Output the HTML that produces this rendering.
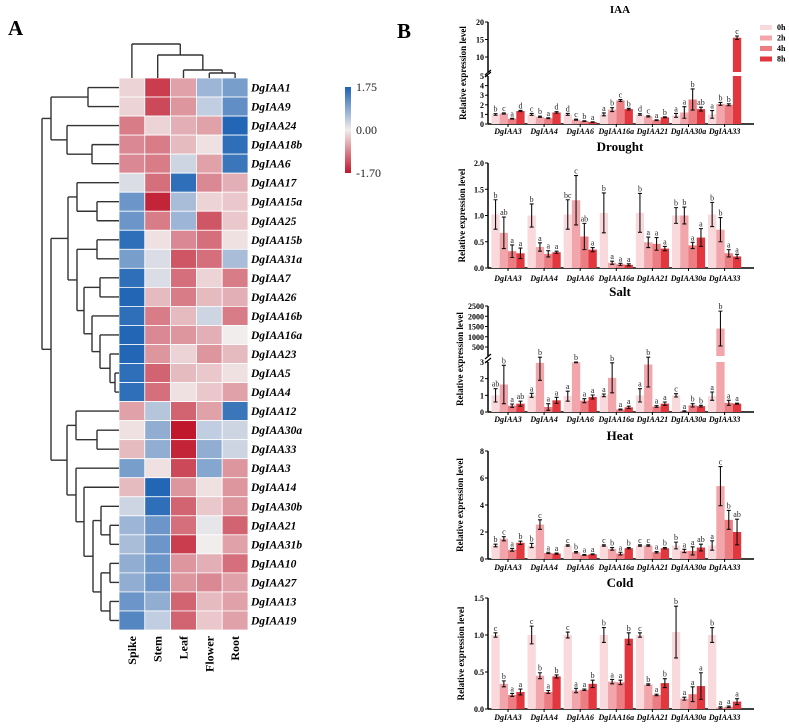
<!DOCTYPE html>
<html><head><meta charset="utf-8"><style>
html,body{margin:0;padding:0;background:#fff;}
svg{display:block;}
text{font-family:"Liberation Serif",serif;}
</style></head>
<body>
<svg id="fig" width="789" height="728" viewBox="0 0 789 728" xmlns="http://www.w3.org/2000/svg">
<text x="8" y="35" font-size="21" font-weight="bold">A</text>
<text x="397" y="38" font-size="21" font-weight="bold">B</text>
<g id="heat"></g>
<g id="bars"></g>
</svg>
<script>
// ---------- Heatmap data ----------
const heatGenes = ["DgIAA1","DgIAA9","DgIAA24","DgIAA18b","DgIAA6","DgIAA17","DgIAA15a","DgIAA25","DgIAA15b","DgIAA31a","DgIAA7","DgIAA26","DgIAA16b","DgIAA16a","DgIAA23","DgIAA5","DgIAA4","DgIAA12","DgIAA30a","DgIAA33","DgIAA3","DgIAA14","DgIAA30b","DgIAA21","DgIAA31b","DgIAA10","DgIAA27","DgIAA13","DgIAA19"];
const tissues = ["Spike","Stem","Leaf","Flower","Root"];
const heatValues = [
[-0.2,-1.4,-0.6,0.7,1.0],[-0.2,-1.3,-0.7,0.4,1.2],[-0.9,-0.2,-0.5,-0.6,1.7],[-0.8,-0.9,-0.4,-0.1,1.6],[-0.8,-0.9,0.3,-0.6,1.5],
[0.2,-1.0,1.6,-0.8,-0.5],[1.1,-1.6,0.6,-0.2,-0.3],[1.1,-0.9,0.7,-1.2,-0.3],[1.6,-0.1,-0.8,-1.0,-0.1],[1.0,0.2,-1.2,-1.0,0.6],
[1.6,0.2,-1.0,-0.2,-0.9],[1.7,-0.4,-0.9,-0.4,-0.5],[1.6,-0.9,-0.4,0.3,-0.9],[1.7,-0.8,-0.7,-0.5,0.0],[1.7,-0.7,-0.2,-0.7,-0.4],
[1.6,-1.1,-0.4,-0.3,-0.1],[1.6,-1.0,-0.1,-0.3,-0.6],[-0.6,0.5,-1.1,-0.6,1.5],[-0.1,0.8,-1.7,0.4,0.3],[-0.4,0.8,-1.6,0.8,0.3],
[1.0,-0.1,-1.3,0.9,-0.7],[-0.4,1.7,-0.7,-0.1,-0.7],[0.3,1.6,-1.1,-0.3,-0.7],[0.7,1.1,-1.0,0.1,-1.1],[0.6,1.1,-1.4,0.0,-0.6],
[0.8,1.1,-0.7,-0.5,-1.0],[0.8,1.1,-0.7,-0.8,-0.6],[1.1,0.8,-1.1,-0.4,-0.6],[1.3,0.4,-1.1,-0.3,-0.6]];
const colorbarTicks = [1.75, 0.00, -1.70];

// ---------- Bar chart data ----------
const barGenes = ["DgIAA3","DgIAA4","DgIAA6","DgIAA16a","DgIAA21","DgIAA30a","DgIAA33"];
const timePoints = ["0h","2h","4h","8h"];
const iaaMeans = [[1.0,1.1,0.55,1.35],[1.0,0.75,0.6,1.2],[1.0,0.45,0.3,0.2],[1.0,1.5,2.45,1.55],[1.0,0.8,0.4,0.7],[0.9,1.2,2.55,1.55],[1.0,2.1,2.0,15.5]];
const iaaErrs = [[0.08,0.06,0.04,0.06],[0.1,0.06,0.04,0.08],[0.1,0.05,0.03,0.03],[0.15,0.2,0.1,0.08],[0.08,0.06,0.04,0.05],[0.2,0.6,1.1,0.2],[0.4,0.15,0.1,0.5]];
const iaaLetters = [["b","c","a","d"],["c","b","a","d"],["d","c","b","a"],["a","b","c","b"],["d","c","a","b"],["a","a","b","ab"],["a","b","b","c"]];
const droughtMeans = [[1.02,0.67,0.32,0.28],[1.0,0.4,0.27,0.3],[1.02,1.29,0.6,0.35],[1.05,0.1,0.07,0.06],[1.05,0.49,0.46,0.37],[1.0,1.0,0.43,0.58],[1.02,0.73,0.28,0.22]];
const droughtErrs = [[0.28,0.3,0.12,0.1],[0.22,0.08,0.06,0.02],[0.28,0.47,0.25,0.04],[0.38,0.03,0.02,0.02],[0.37,0.1,0.12,0.04],[0.15,0.16,0.06,0.17],[0.23,0.23,0.07,0.04]];
const droughtLetters = [["b","ab","a","a"],["b","a","a","a"],["bc","c","ab","a"],["b","a","a","a"],["b","a","a","a"],["b","b","a","a"],["b","b","a","a"]];
const saltMeans = [[1.0,1.65,0.38,0.5],[1.0,2.95,0.3,0.7],[0.95,2.98,0.68,0.9],[1.0,2.05,0.15,0.28],[1.0,2.85,0.33,0.5],[1.0,0.05,0.4,0.35],[0.95,1400,0.55,0.5]];
const saltErrs = [[0.4,1.15,0.1,0.15],[0.12,1.05,0.2,0.18],[0.3,0.02,0.12,0.12],[0.08,0.9,0.03,0.07],[0.4,1.35,0.05,0.1],[0.1,0.02,0.1,0.05],[0.25,850,0.15,0.03]];
const saltLetters = [["ab","b","a","ab"],["a","b","a","a"],["a","b","a","a"],["a","b","a","a"],["a","b","a","a"],["c","a","b","b"],["a","b","a","a"]];
const heatMeans = [[1.0,1.5,0.68,1.2],[1.0,2.55,0.45,0.4],[1.0,0.5,0.3,0.35],[1.0,0.75,0.4,0.8],[1.0,1.0,0.5,0.8],[1.0,0.6,0.6,0.85],[1.0,5.4,2.9,2.0]];
const heatErrs = [[0.1,0.15,0.1,0.12],[0.15,0.35,0.05,0.04],[0.05,0.05,0.03,0.03],[0.05,0.1,0.1,0.05],[0.05,0.05,0.05,0.05],[0.25,0.12,0.3,0.25],[0.35,1.45,0.7,0.95]];
const heatLetters = [["b","c","a","b"],["b","c","a","a"],["c","b","a","a"],["c","b","a","b"],["c","c","a","b"],["b","a","a","ab"],["a","c","b","ab"]];
const coldMeans = [[1.0,0.34,0.19,0.23],[1.0,0.45,0.23,0.44],[1.0,0.25,0.26,0.34],[1.0,0.37,0.36,0.95],[1.0,0.33,0.19,0.35],[1.04,0.14,0.2,0.31],[1.0,0.02,0.03,0.1]];
const coldErrs = [[0.03,0.04,0.02,0.04],[0.12,0.04,0.02,0.02],[0.04,0.03,0.01,0.05],[0.1,0.03,0.03,0.08],[0.03,0.01,0.01,0.06],[0.35,0.02,0.1,0.18],[0.1,0.01,0.01,0.04]];
const coldLetters = [["c","b","a","a"],["c","b","a","b"],["c","a","a","b"],["b","a","a","b"],["c","b","a","b"],["b","a","a","a"],["b","a","a","a"]];
const iaaTicksLow = [0,1,2,3,4,5], iaaTicksUp = [10,15,20];
const droughtTicks = [0,0.5,1.0,1.5,2.0];
const saltTicksLow = [0,1,2,3], saltTicksUp = [500,1000,1500,2000,2500];
const heatTicks = [0,2,4,6,8];
const coldTicks = [0,0.5,1.0,1.5];

const NS = "http://www.w3.org/2000/svg";
function mk(parent, tag, attrs, txt){const e=document.createElementNS(NS,tag);for(const k in attrs)e.setAttribute(k,attrs[k]);if(txt!==undefined)e.textContent=txt;parent.appendChild(e);return e;}

// ---------- Heatmap ----------
const hg = document.getElementById('heat');
const HX0=119, HW=25.8, HY0=78, HH=(630-78)/heatGenes.length;
function colX(j){return HX0+j*HW;}
function rowY(i){return HY0+i*HH;}
function lerp(a,b,t){return Math.round(a+(b-a)*t);}
function heatColor(v){
  const n=[242,237,237], b=[29,98,179], r=[192,23,45];
  let c,t;
  if(v>=0){t=Math.min(1,v/1.75);c=b;}else{t=Math.min(1,-v/1.70);c=r;}
  return `rgb(${lerp(n[0],c[0],t)},${lerp(n[1],c[1],t)},${lerp(n[2],c[2],t)})`;
}
heatValues.forEach((row,i)=>{
  row.forEach((v,j)=>{
    const r=mk(hg,'rect',{x:colX(j),y:rowY(i),width:HW,height:HH,fill:heatColor(v),stroke:'#fff','stroke-width':0.8});
    
    
  });
  const t=mk(hg,'text',{x:251,y:rowY(i)+HH/2+4,'font-size':11.5,'font-weight':'bold','font-style':'italic'},heatGenes[i]);
  
  
});
tissues.forEach((tn,j)=>{
  const cx=colX(j)+HW/2+4;
  const t=mk(hg,'text',{x:cx,y:636,'font-size':12,'font-weight':'bold','text-anchor':'end',transform:`rotate(-90 ${cx} 636)`},tn);
  
  
});
function N(x,ch){return {x:x,ch:ch};}
const rowTree = N(42,[N(51,[N(88,[0,1]),N(67,[2,N(92,[3,4])])]),
  N(51,[N(68,[N(77,[5,N(97,[6,7])]),N(77,[N(97,[8,9]),N(84,[N(100,[10,11]),N(92,[12,N(100,[13,N(110,[14,N(115,[15,16])])])])])])]),
        N(67,[N(76,[17,N(97,[18,19])]),N(76,[20,N(84,[21,N(93,[N(101,[22,N(110,[23,24])]),N(101,[N(110,[25,26]),N(110,[27,28])])])])])])])]);
const dg = mk(hg,'g',{stroke:'#333','stroke-width':1.4,fill:'none'});


function drawRow(nd){
  if(typeof nd==='number') return {x:HX0,y:rowY(nd)+HH/2};
  const ps=nd.ch.map(drawRow);
  ps.forEach(p=>mk(dg,'line',{x1:nd.x,y1:p.y,x2:p.x,y2:p.y}));
  mk(dg,'line',{x1:nd.x,y1:ps[0].y,x2:nd.x,y2:ps[ps.length-1].y});
  return {x:nd.x,y:(ps[0].y+ps[ps.length-1].y)/2};
}
drawRow(rowTree);
const colTree = N(44,[0,N(55,[1,N(70,[2,N(73,[3,4])])])]);
const cg = mk(hg,'g',{stroke:'#333','stroke-width':1.4,fill:'none'});


function drawCol(nd){
  if(typeof nd==='number') return {x:colX(nd)+HW/2,y:HY0};
  const ps=nd.ch.map(drawCol);
  ps.forEach(p=>mk(cg,'line',{x1:p.x,y1:nd.x,x2:p.x,y2:p.y}));
  mk(cg,'line',{x1:ps[0].x,y1:nd.x,x2:ps[ps.length-1].x,y2:nd.x});
  return {x:(ps[0].x+ps[ps.length-1].x)/2,y:nd.x};
}
drawCol(colTree);
const defs=mk(document.getElementById('fig'),'defs',{});
const lg=mk(defs,'linearGradient',{id:'cbg',x1:0,y1:0,x2:0,y2:1});
[[0,1.75],[0.5,0],[1,-1.7]].forEach(s=>mk(lg,'stop',{offset:s[0],'stop-color':heatColor(s[1])}));
const cb=mk(hg,'rect',{x:345,y:87,width:6,height:86,fill:'url(#cbg)'});


colorbarTicks.forEach(v=>{
  const y = v>=0 ? 130-(v/1.75)*43 : 130+(-v/1.70)*43;
  const t=mk(hg,'text',{x:356,y:y+4,'font-size':12,'font-family':'Liberation Sans, sans-serif',fill:'#222'},v.toFixed(2));
  
  
});

// ---------- Bar panels ----------
const bg=document.getElementById('bars');
const barColors=['#f9d9dc','#f2a5aa','#ec7d82','#e2373f'];
const AX=488, AXR=754, GC0=508, GS=36.1, BW=8.3;
function fmt(v,dec){return dec?v.toFixed(1):String(v);}
function panel(cfg){
  const g=mk(bg,'g',{});
  
  
  const t=mk(g,'text',{x:620,y:cfg.titleY,'font-size':cfg.titleSize,'font-weight':'bold','text-anchor':'middle'},cfg.title);
  
  
  const low=cfg.low, up=cfg.up;
  function yLow(v){return low.y0+(low.y1-low.y0)*(v/low.max);}
  function yUp(v){return up.ya+(up.yb-up.ya)*(v-up.va)/(up.vb-up.va);}
  function yv(v){return (up && v>low.max)?yUp(v):yLow(v);}
  const topY = up?up.top:low.y1;
  if(up){
    mk(g,'line',{x1:AX,y1:low.y0,x2:AX,y2:low.y1,stroke:'#000','stroke-width':1.5});
    mk(g,'line',{x1:AX,y1:up.start,x2:AX,y2:up.top,stroke:'#000','stroke-width':1.5});
    mk(g,'line',{x1:AX-3,y1:low.y1+1,x2:AX+3,y2:low.y1-4,stroke:'#000','stroke-width':1.2});
    mk(g,'line',{x1:AX-3,y1:up.start+3,x2:AX+3,y2:up.start-2,stroke:'#000','stroke-width':1.2});
  } else mk(g,'line',{x1:AX,y1:low.y0,x2:AX,y2:low.y1,stroke:'#000','stroke-width':1.5});
  mk(g,'line',{x1:AX,y1:low.y0,x2:AXR,y2:low.y0,stroke:'#000','stroke-width':1.5});
  const ticks=[...cfg.ticksLow.map(v=>[v,yLow(v)]),...(cfg.ticksUp||[]).map(v=>[v,yUp(v)])];
  ticks.forEach(([v,y])=>{
    mk(g,'line',{x1:AX-3,y1:y,x2:AX,y2:y,stroke:'#000','stroke-width':1});
    const tl=mk(g,'text',{x:AX-4,y:y+3,'font-size':8,'font-weight':'bold','text-anchor':'end'},fmt(v,cfg.dec));
    
    
  });
  const ymid=(low.y0+topY)/2;
  const yt=mk(g,'text',{x:cfg.ytX,y:ymid,'font-size':9,'font-weight':'bold','text-anchor':'middle',transform:`rotate(-90 ${cfg.ytX} ${ymid})`},'Relative expression level');
  
  
  cfg.means.forEach((row,i)=>{
    const gc=GC0+GS*i;
    mk(g,'line',{x1:gc,y1:low.y0,x2:gc,y2:low.y0+3,stroke:'#000','stroke-width':1});
    const gl=mk(g,'text',{x:gc,y:cfg.labY,'font-size':8,'font-weight':'bold','font-style':'italic','text-anchor':'middle'},barGenes[i]);
    
    
    row.forEach((v,k)=>{
      const x=gc-2*BW+k*BW;
      if(up && v>low.max){
        const r1=mk(g,'rect',{x:x,y:low.y1,width:BW,height:low.y0-low.y1,fill:barColors[k]});
        
        
        const r2=mk(g,'rect',{x:x,y:yUp(v),width:BW,height:up.start-yUp(v),fill:barColors[k]});
        
        
      } else {
        const yy=yLow(Math.min(v,low.max));
        const r=mk(g,'rect',{x:x,y:yy,width:BW,height:low.y0-yy,fill:barColors[k]});
        
        
      }
      const e=cfg.errs[i][k];
      const cx=x+BW/2;
      const yt2=yv(v+e), yb=yv(Math.max(0,v-e));
      const eg=mk(g,'path',{d:`M${cx},${yt2}V${yb}M${cx-2},${yt2}H${cx+2}M${cx-2},${yb}H${cx+2}`,stroke:'#111','stroke-width':1.1,fill:'none'});
      
      
      const lt=mk(g,'text',{x:cx,y:yt2-2,'font-size':8,'text-anchor':'middle',fill:'#222'},cfg.letters[i][k]);
      
      
    });
  });
}
panel({name:'iaa',title:'IAA',titleY:13,titleSize:11,means:iaaMeans,errs:iaaErrs,letters:iaaLetters,
  low:{y0:124,y1:76,max:5},up:{va:10,vb:20,ya:57,yb:22,start:72,top:22},ticksLow:iaaTicksLow,ticksUp:iaaTicksUp,dec:false,ytX:466,labY:134});
panel({name:'drought',title:'Drought',titleY:151,titleSize:13,means:droughtMeans,errs:droughtErrs,letters:droughtLetters,
  low:{y0:268,y1:163,max:2},ticksLow:droughtTicks,dec:true,ytX:465,labY:281});
panel({name:'salt',title:'Salt',titleY:296,titleSize:13,means:saltMeans,errs:saltErrs,letters:saltLetters,
  low:{y0:412,y1:362,max:3},up:{va:500,vb:2500,ya:347,yb:306,start:356,top:306},ticksLow:saltTicksLow,ticksUp:saltTicksUp,dec:false,ytX:463,labY:422});
panel({name:'heat',title:'Heat',titleY:440,titleSize:13,means:heatMeans,errs:heatErrs,letters:heatLetters,
  low:{y0:559,y1:451,max:8},ticksLow:heatTicks,dec:false,ytX:463,labY:570});
panel({name:'cold',title:'Cold',titleY:587,titleSize:13,means:coldMeans,errs:coldErrs,letters:coldLetters,
  low:{y0:709,y1:598,max:1.5},ticksLow:coldTicks,dec:true,ytX:464,labY:720});
timePoints.forEach((tp,k)=>{
  const y=25+k*10.5;
  const r=mk(bg,'rect',{x:760,y:y,width:12,height:5,fill:barColors[k]});
  
  
  const t=mk(bg,'text',{x:777,y:y+5,'font-size':8,'font-weight':'bold'},tp);
  
  
});
</script>
</body></html>
